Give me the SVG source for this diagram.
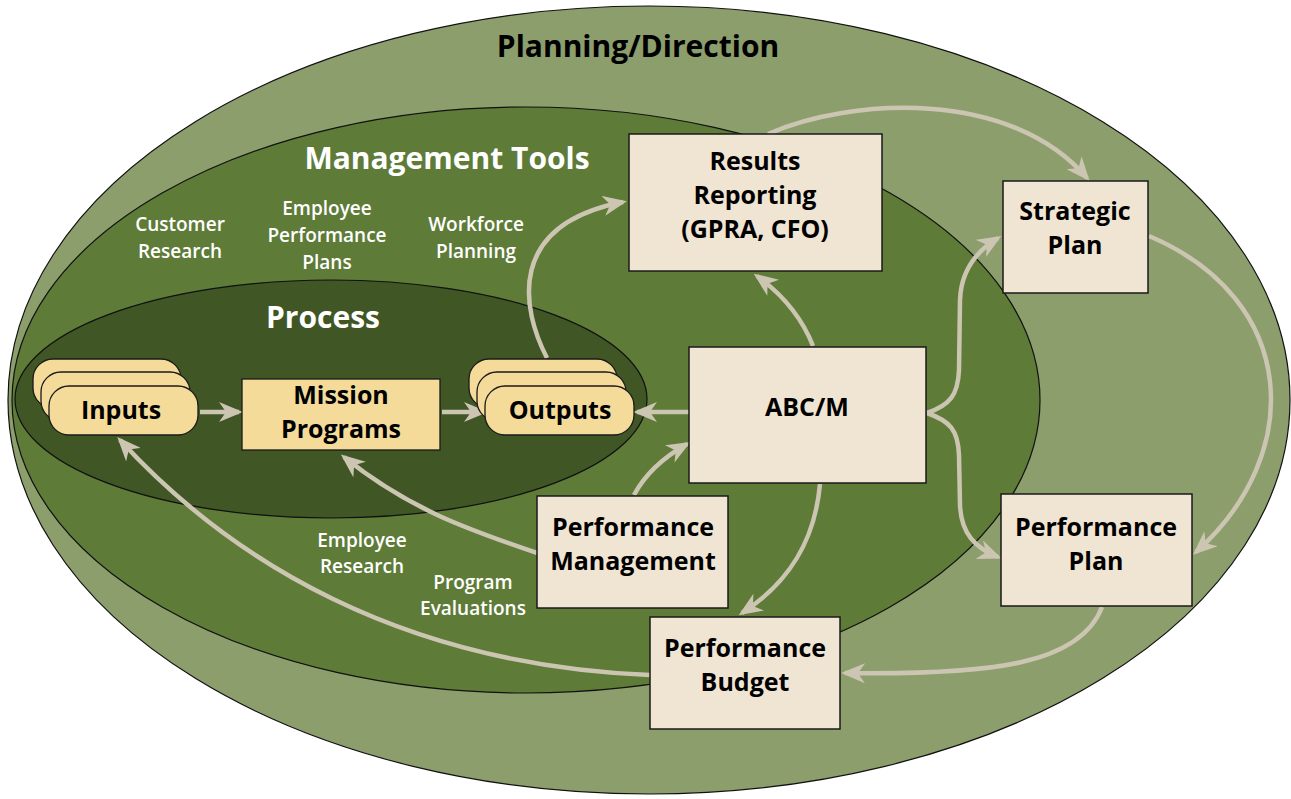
<svg xmlns="http://www.w3.org/2000/svg" width="1291" height="799" viewBox="0 0 1291 799">
<defs>
<style>
.ell{stroke:#111;stroke-width:1.2}
.box{fill:#F0E5D2;stroke:#1a1a1a;stroke-width:1.5}
.tan{fill:#F4DB9A;stroke:#1a1a1a;stroke-width:1.3}
.lbl{font-family:"Open Sans","Liberation Sans",sans-serif;font-weight:700;font-size:25px;fill:#000;text-anchor:middle}
.big{font-family:"Open Sans","Liberation Sans",sans-serif;font-weight:700;font-size:30px;text-anchor:middle}
.sm{font-family:"Open Sans","Liberation Sans",sans-serif;font-weight:600;font-size:19px;fill:#fff;text-anchor:middle}
.con{fill:none;stroke:#CBC5B2;stroke-width:4.5}
</style>
<marker id="ah" markerUnits="userSpaceOnUse" viewBox="0 0 24 20" markerWidth="24" markerHeight="20" refX="20" refY="10" orient="auto">
<path d="M0,0 L24,10 L0,20 L7,10 Z" fill="#CBC5B2"/>
</marker>
</defs>
<rect width="1291" height="799" fill="#fff"/>
<g id="planning">
<ellipse class="ell" cx="649" cy="400" rx="641" ry="394" fill="#8C9E6C"/>
<text class="big" x="638" y="57" fill="#000">Planning/Direction</text>
</g>
<g id="management">
<ellipse class="ell" cx="526" cy="400" rx="514" ry="293" fill="#5E7B38"/>
<text class="big" x="447" y="169" fill="#fff">Management Tools</text>
<text class="sm" x="180" y="231">Customer</text>
<text class="sm" x="180" y="258">Research</text>
<text class="sm" x="327" y="215">Employee</text>
<text class="sm" x="327" y="242">Performance</text>
<text class="sm" x="327" y="269">Plans</text>
<text class="sm" x="476" y="231">Workforce</text>
<text class="sm" x="476" y="258">Planning</text>
<text class="sm" x="362" y="547">Employee</text>
<text class="sm" x="362" y="573">Research</text>
<text class="sm" x="473" y="589">Program</text>
<text class="sm" x="473" y="615">Evaluations</text>
</g>
<g id="process">
<ellipse class="ell" cx="331" cy="399" rx="316" ry="119" fill="#405625"/>
<text class="big" x="323" y="328" fill="#fff">Process</text>
</g>
<g id="connectors">
<path class="con" marker-end="url(#ah)" d="M200,412 L239,412"/>
<path class="con" marker-end="url(#ah)" d="M442,412 L484,412"/>
<path class="con" marker-end="url(#ah)" d="M689,412 L637,412"/>
<path class="con" marker-end="url(#ah)" d="M547,358 C522,310 505,225 623,202"/>
<path class="con" marker-end="url(#ah)" d="M813,346 Q797,305 757,276"/>
<path class="con" marker-end="url(#ah)" d="M768,134 C850,98 1010,88 1087,178"/>
<path class="con" marker-end="url(#ah)" d="M927,413 C950,405 958,395 959,370 L960,300 C961,272 975,252 998,238"/>
<path class="con" marker-end="url(#ah)" d="M927,413 C950,421 958,430 959,455 L960,505 C961,533 975,548 998,557"/>
<path class="con" marker-end="url(#ah)" d="M1149,236 C1300,300 1305,455 1196,552"/>
<path class="con" marker-end="url(#ah)" d="M1102,607 C1080,665 990,675 845,673"/>
<path class="con" marker-end="url(#ah)" d="M820,484 C815,540 790,582 742,613"/>
<path class="con" marker-end="url(#ah)" d="M634,495 Q650,465 687,444"/>
<path class="con" marker-end="url(#ah)" d="M537,553 C470,530 410,510 344,457"/>
<path class="con" marker-end="url(#ah)" d="M650,675 C400,665 230,560 120,440"/>
</g>
<g id="inputs">
<rect class="tan" x="33" y="359" width="148" height="49" rx="20"/>
<rect class="tan" x="41" y="372" width="149" height="49" rx="20"/>
<rect class="tan" x="49" y="386" width="149" height="49" rx="20"/>
<text class="lbl" x="121" y="419">Inputs</text>
</g>
<g id="mission">
<rect class="tan" x="242" y="379" width="198" height="71"/>
<text class="lbl" x="341" y="404">Mission</text>
<text class="lbl" x="341" y="438">Programs</text>
</g>
<g id="outputs">
<rect class="tan" x="469" y="359" width="148" height="49" rx="20"/>
<rect class="tan" x="477" y="372" width="149" height="49" rx="20"/>
<rect class="tan" x="485" y="386" width="149" height="49" rx="20"/>
<text class="lbl" x="560" y="419">Outputs</text>
</g>
<g id="results">
<rect class="box" x="629" y="134" width="253" height="137"/>
<text class="lbl" x="755" y="170">Results</text>
<text class="lbl" x="755" y="204">Reporting</text>
<text class="lbl" x="755" y="238">(GPRA, CFO)</text>
</g>
<g id="strategic">
<rect class="box" x="1003" y="181" width="145" height="112"/>
<text class="lbl" x="1075" y="220">Strategic</text>
<text class="lbl" x="1075" y="254">Plan</text>
</g>
<g id="abcm">
<rect class="box" x="689" y="347" width="237" height="136"/>
<text class="lbl" x="807" y="416">ABC/M</text>
</g>
<g id="perfplan">
<rect class="box" x="1001" y="494" width="191" height="112"/>
<text class="lbl" x="1096" y="536">Performance</text>
<text class="lbl" x="1096" y="570">Plan</text>
</g>
<g id="perfmgmt">
<rect class="box" x="537" y="496" width="191" height="112"/>
<text class="lbl" x="633" y="536">Performance</text>
<text class="lbl" x="633" y="570">Management</text>
</g>
<g id="perfbudget">
<rect class="box" x="650" y="617" width="190" height="112"/>
<text class="lbl" x="745" y="657">Performance</text>
<text class="lbl" x="745" y="691">Budget</text>
</g>
</svg>
